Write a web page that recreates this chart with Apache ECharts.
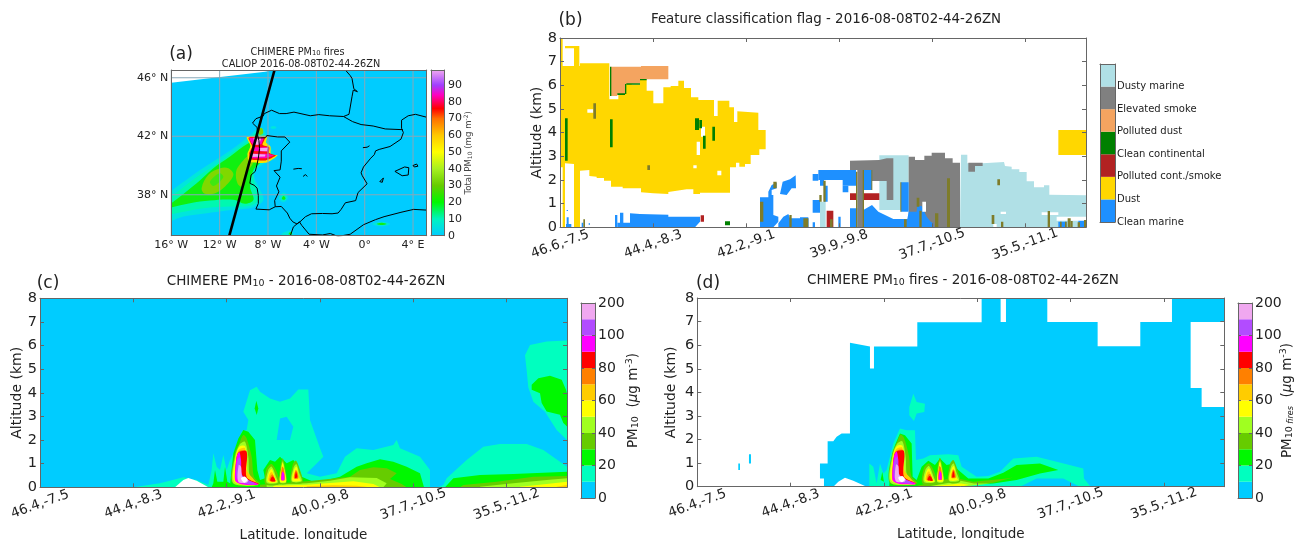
<!DOCTYPE html>
<html><head><meta charset="utf-8">
<style>html,body{margin:0;padding:0;background:#fff}#chart{width:1295px;height:539px}</style>
<script src="https://cdn.jsdelivr.net/npm/echarts@6/dist/echarts.min.js"></script>
</head><body><div id="chart"></div>
<script>
/* ---------- shared labels ---------- */
const FONT = 'DejaVu Sans';
const altitudeTicks = [0,1,2,3,4,5,6,7,8];
const bTrackLabels = ['46.6,-7.5','44.4,-8.3','42.2,-9.1','39.9,-9.8','37.7,-10.5','35.5,-11.1'];
const cTrackLabels = ['46.4,-7.5','44.4,-8.3','42.2,-9.1','40.0,-9.8','37.7,-10.5','35.5,-11.2'];
const pmBandLabels = ['0','20','40','60','80','100','200'];
const pmBandColors = ['#00CCFF','#00FFBF','#00F800','#66CC00','#A0FF20','#FFFF00','#FFCC00','#FF8000','#FF0000','#FF00FF','#B24CFF','#F0A8F0'];
const aerosolTypes = ['Clean marine','Dust','Polluted cont./smoke','Clean continental','Polluted dust','Elevated smoke','Dusty marine'];
const aerosolColors = ['#1E90FF','#FFD700','#B22222','#008000','#F4A460','#808080','#B0E0E6'];
const lonTicks = [-16,-12,-8,-4,0,4];
const latTicks = [38,42,46];
const aScaleStops = [[0,'#00CCFF'],[10,'#00F4C0'],[20,'#00F800'],[30,'#66CC00'],[40,'#A8F020'],[50,'#FFFF00'],[60,'#FFC800'],[70,'#FF7000'],[76,'#FF0000'],[84,'#FF00C0'],[90,'#A040FF'],[99,'#F0A8F0']];

/* ---------- panel (a): map lines, lon/lat ---------- */
const coastFranceSpainPortugal = [[-1.6,46.53],[-1.2,46.15],[-1.05,45.95],[-0.9,45.25],[-0.6,45.05],[-0.95,45.15],[-1.05,44.7],[-1.3,43.5],[-1.75,43.35],[-2.9,43.4],[-3.8,43.48],[-4.5,43.4],[-5.85,43.65],[-6.5,43.55],[-7.05,43.55],[-7.7,43.78],[-8.3,43.55],[-8.4,43.38],[-9.0,43.2],[-9.28,42.9],[-8.9,42.6],[-8.87,42.1],[-8.75,41.7],[-8.7,41.15],[-8.8,40.5],[-8.9,40.1],[-9.05,39.6],[-9.4,39.35],[-9.5,38.78],[-9.15,38.65],[-8.9,38.45],[-8.8,37.95],[-8.8,37.4],[-9.0,37.02],[-7.9,36.97],[-7.4,37.18],[-6.9,37.2],[-6.4,36.75],[-6.2,36.4],[-5.95,36.15],[-5.6,36.0],[-5.35,36.15],[-4.9,36.5],[-4.4,36.7],[-3.5,36.72],[-2.7,36.7],[-2.2,36.75],[-1.95,37.0],[-1.6,37.45],[-0.75,37.6],[-0.55,38.15],[0.2,38.75],[-0.2,39.3],[-0.3,39.5],[-0.1,39.9],[0.5,40.5],[0.8,40.75],[0.9,41.0],[1.2,41.1],[2.1,41.3],[3.0,41.8],[3.2,42.25],[3.05,42.55],[3.05,43.1],[3.6,43.4],[4.2,43.5],[5.13,43.3]];
const borderSpainFrance = [[-1.75,43.35],[-1.0,43.0],[-0.3,42.8],[0.7,42.7],[1.7,42.5],[3.15,42.45]];
const borderSpainPortugal = [[-8.87,41.87],[-8.2,41.9],[-8.1,42.05],[-7.2,41.95],[-6.6,41.95],[-6.2,41.6],[-6.9,41.0],[-6.9,40.3],[-7.0,39.7],[-7.5,39.65],[-7.0,39.2],[-7.3,38.6],[-7.1,38.2],[-7.45,37.6],[-7.4,37.18]];
const coastAfrica = [[-6.15,35.2],[-5.9,35.8],[-5.4,36.15],[-5.2,35.9],[-4.6,35.3],[-3.5,35.25],[-2.85,35.35],[-2.2,35.15],[-1.2,35.3],[-0.1,35.95],[0.9,36.3],[1.6,36.5],[3.0,36.8],[4.05,37.0],[5.13,36.95]];
const islandMallorca = [[2.5,39.6],[3.3,39.9],[3.65,39.85],[3.6,39.35],[3.1,39.3],[2.5,39.6]];
const islandMenorca = [[4.0,40.0],[4.3,40.1],[4.4,39.95],[4.1,39.9],[4.0,40.0]];
const islandIbiza = [[1.25,38.9],[1.55,39.15],[1.7,39.05],[1.45,38.85],[1.25,38.9]];
const reservoirs = [[[-5.9,39.75],[-5.5,39.8],[-5.2,39.78]],[[-5.1,39.25],[-4.9,39.38],[-4.75,39.25]],[[-0.15,41.22],[0.2,41.25],[0.4,41.35]]];
const caliopTrack = [[-7.46,46.53],[-11.2,35.2]];
/* plume bands: lon,lat outlines */
const aWhiteWedge = [[[-16,45.66],[-8.24,46.41],[-7.5,46.53],[-16,46.53]]];
const aBand5 = [[[-17,37.4],[-14.18,39.36],[-12.52,40.27],[-10.86,41.18],[-9.62,41.97],[-8.65,42.61],[-8.24,42.31],[-8.1,41.75],[-7.41,40.72],[-7.33,40.49],[-8.51,40.04],[-9.15,39.36],[-8.79,38.56],[-8.38,37.65],[-9.2,37.15],[-10.86,36.97],[-13.07,36.74],[-15,36.51],[-17,36]],
  [[-7.1,37.75],[-6.7,38.15],[-6.35,37.8],[-6.7,37.5]],[[0.6,36],[1.4,36.15],[2.1,36],[1.4,35.85]],[[-6.9,35.3],[-6.15,35.55],[-5.9,35.3],[-6.3,35.2]],[[-7.8,42.6],[-7.55,42.7],[-7.3,42.6],[-7.55,42.5]]];
const aBand10 = [[[-17,37.1],[-14.04,39.13],[-12.38,40.04],[-10.86,40.95],[-9.62,41.75],[-8.65,42.43],[-8.38,42.09],[-8.24,40.72],[-8.65,40.15],[-9.2,39.47],[-8.98,38.33],[-8.79,37.65],[-9.48,37.24],[-11.14,37.19],[-13.35,37.08],[-17,36.6]],[[-6.9,37.78],[-6.7,38],[-6.5,37.8],[-6.7,37.62]]];
const aBand20 = [[[-17,36.8],[-13.9,38.79],[-12.52,39.81],[-11.14,40.61],[-9.62,41.52],[-8.65,41.75],[-8.51,40.38],[-9.2,39.7],[-9.48,38.56],[-9.2,37.65],[-9.9,37.38],[-10.86,37.65],[-12.8,37.6],[-14.45,37.42],[-17,36.9]],
  [[-6.85,37.75],[-6.7,37.92],[-6.55,37.75],[-6.7,37.65]],[[1,36],[1.4,36.08],[1.8,36],[1.4,35.93]],[[-6.3,35.3],[-6.15,35.45],[-6,35.3]]];
const aBand28 = [[[-13.49,38.45],[-12.93,39.36],[-11.97,39.81],[-11.28,39.81],[-10.86,39.36],[-11.55,38.56],[-12.38,38.1],[-13.21,38.06]],[[-10.64,39.58],[-10.25,40.15],[-9.48,40.72],[-9.2,40.27],[-9.76,39.47],[-10.17,38.56],[-10.53,38.79]],[[-8.8,42.5],[-8.5,42.55],[-8.4,42.2],[-8.7,42.1]]];
const aBand22Core = [[[-12.8,38.9],[-12,39.47],[-11.7,39.2],[-12.5,38.6]]];
const aBand50 = [[[-9.75,41.95],[-8.1,42.0],[-8.15,41.55],[-7.8,41.3],[-7.75,40.75],[-7.2,40.7],[-8.1,40.2],[-9.55,40.25],[-9.7,40.8],[-9.45,41.35]]];
const aBand76 = [[[-9.6,41.9],[-8.25,41.92],[-8.45,41.42],[-7.9,41.25],[-7.9,40.85],[-7.35,40.68],[-8.2,40.35],[-9.45,40.42],[-9.55,40.85],[-9.3,41.3]]];
const aBand84 = [[[-9.55,41.88],[-8.35,41.9],[-8.55,41.45],[-9.2,41.4],[-9.4,41.55]],[[-9.28,41.25],[-8,41.25],[-8,40.95],[-9.28,41]],[[-9.45,40.8],[-8,40.8],[-7.5,40.68],[-8.2,40.5],[-9.45,40.5]]];
const aBand99 = [[[-9.2,41.9],[-8.55,41.9],[-8.75,41.42],[-9.1,41.42]],[[-8.65,41.2],[-8,41.22],[-8.1,40.98],[-8.65,41]],[[-9.3,40.8],[-8.2,40.76],[-8.25,40.62],[-9.3,40.58]]];

/* ---------- panel (b): classified features, [profile, altitude bin] ---------- */
const bDustOutline = [[0,180,0,484,60,484,60,492,148,492,148,384,175,384,175,400,195,400,195,430,215,430,215,428,240,428,240,444,260,444,260,410,280,410,280,372,310,372,310,420,332,420,332,424,355,424,355,440,372,440,372,418,393,418,393,390,415,390,415,382,462,382,462,334,473,334,473,380,508,380,508,360,522,360,522,316,532,316,532,348,595,344,595,292,617,292,617,234,598,234,598,217,572,217,572,190,555,190,555,182,538,182,538,194,528,194,528,180,510,180,510,104,420,104,420,100,400,100,400,114,380,114,350,110,325,106,325,100,280,102,243,105,243,117,188,117,188,122,153,122,153,140,132,140,132,148,110,148,110,152,88,154,88,172,60,170,60,0,42,0,42,190,15,192,15,0,8,0,8,180]];
const bDustBoxes = [[0,8,484,568],[15,42,537,544],[42,58,484,544],[1495,1578,217,292]];
const bClearGaps = [[82,100,344,354],[423,435,272,302],[410,420,217,257],[400,410,177,186],[472,484,156,170]];
const bPollutedDustOutline = [[152,482,243,482,243,484,325,484,325,444,240,444,240,432,195,430,195,400,172,400,172,394,152,394]];
const bCleanContBoxes = [[15,23,200,327],[150,158,240,324],[405,417,292,327],[418,426,297,322],[429,437,236,275],[457,465,260,302],[150,154,394,482],[172,195,397,402],[195,199,400,430],[199,240,428,432],[240,260,441,445],[495,510,6,18]];
const bMarineOutlines = [[210,0,210,42,240,40,325,38,325,32,420,32,420,17,405,0],[600,0,600,90,625,90,625,107,635,127,650,134,650,117,635,112,635,97,640,97,640,37,655,32,655,17,640,0],[655,12,670,32,685,40,690,27,745,27,745,0,655,0],[660,100,668,137,690,144,707,156,708,117,695,117,680,97],[910,52,936,67,955,47,1000,25,1025,25,1046,25,1046,0,910,0]];
const bMarineBoxes = [[165,172,0,37],[180,190,0,44],[172,210,0,14],[20,26,0,30],[18,34,0,10],[65,70,0,14],[20,24,49,52],[86,90,8,12],[758,765,0,15],[775,888,142,172],[758,775,140,160],[848,888,125,142],[848,865,105,125],[780,792,125,142],[792,803,77,125],[758,780,44,82],[835,842,0,32],[720,745,0,30],[870,892,0,57],[910,936,112,172],[1023,1046,47,135],[1495,1520,0,17],[1555,1575,0,22]];
const bMarineLowOutline = [[1042,0,1042,25,1046,47,1070,47,1072,64,1085,64,1100,32,1112,17,1120,12,1120,0]];
const bPollutedContBoxes = [[422,432,17,36],[800,820,0,50],[870,888,82,102],[910,958,82,102]];
const bSmokeOutlines = [[870,172,870,200,958,202,980,207,1000,207,1000,82,980,82,980,139,936,139,936,172,910,172,910,0,892,0,892,172],[1046,212,1065,212,1065,202,1093,202,1093,215,1115,215,1115,224,1155,224,1155,207,1178,207,1178,194,1200,194,1200,0,1046,0]];
const bSmokeBoxes = [[1225,1268,184,194],[1225,1245,167,184]];
const bDustyMarineBoxes = [[780,797,0,77],[958,1046,52,216]];
const bDustyMarineOutline = [[1200,0,1203,218,1222,218,1222,192,1268,192,1332,196,1335,184,1355,182,1355,174,1378,174,1378,166,1400,166,1400,138,1422,138,1422,120,1452,120,1452,126,1468,126,1468,98,1578,96,1578,0]];
const bLateClearGaps = [[1087,1098,47,77],[1322,1338,40,47],[1445,1495,37,45],[1490,1578,20,32],[1300,1310,0,10]];
const bMixedBars = [[100,108,326,372],[262,270,172,186],[70,75,0,24],[600,610,17,77],[640,650,117,137],[688,695,0,37],[730,745,0,27],[778,785,77,97],[790,797,77,140],[810,818,0,24],[888,892,0,167],[908,912,0,172],[934,937,112,172],[1021,1024,47,135],[1032,1040,0,24],[1070,1078,62,89],[1078,1085,0,50],[1125,1135,0,42],[1161,1170,0,147],[1312,1320,126,144],[1295,1303,10,37],[1323,1330,0,17],[1463,1470,0,49],[1500,1505,0,17],[1515,1520,0,17],[1523,1532,0,27],[1532,1538,0,19],[1553,1560,0,15],[1572,1578,0,22]];

/* ---------- panels (c), (d): fire core shared by both, [profile, altitude bin] ---------- */
const coreLevel3 = [[578,12,585,102,600,137,610,157,620,147,635,92,642,32,660,10],[676,10,680,57,695,70,712,42,717,10],[718,12,722,67,728,87,734,67,740,12],[753,14,758,67,768,80,780,52,788,14]];
const coreLevel4 = [[580,12,585,92,600,130,615,137,625,92,630,32,655,10],[680,14,684,50,695,62,709,30,713,14],[720,15,724,60,728,78,733,60,738,15],[755,18,761,60,769,70,778,42,785,18]];
const coreLevel5 = [[583,17,587,92,598,122,615,124,620,92,625,32,655,7],[683,17,687,45,695,55,706,28,711,15],[720,17,724,57,728,74,733,52,738,17],[757,20,763,55,770,62,777,30,782,20]];
const coreLevel6 = [[585,22,590,97,598,114,615,117,620,52,648,12,600,12],[686,20,690,42,696,46,704,24,708,18]];
const coreLevel7 = [[586,25,592,100,600,110,618,109,618,32,650,10,600,12],[689,20,693,36,699,38,706,18],[723,22,726,62,731,57,734,22],[762,27,767,52,772,47,775,27]];
const coreLevel8 = [[588,22,588,72,595,104,620,107,620,30,656,10,600,12],[691,20,696,32,701,30,706,18],[765,28,768,47,772,30]];
const coreLevel9 = [[585,22,590,92,598,106,603,82,608,32,655,9,620,7,595,12],[724,22,727,47,732,42,733,22]];
const coreLevel10 = [[590,27,592,82,600,90,606,37,645,10,605,14]];
const coreLevel11 = [[595,17,596,67,603,62,607,32,625,22,620,14]];
const coreAbove200 = [[603,27,615,32,623,22,612,14]];

/* panel (c) */
const cLevel1 = [[280,0,360,12,430,30,470,22,505,7,515,52,520,102,530,62,540,52,550,97,560,52,570,82,585,112,605,167,620,172,625,202,610,227,630,292,650,302,660,287,690,267,720,257,750,267,775,294,805,294,810,202,840,117,850,92,820,62,800,42,840,32,890,42,915,92,950,117,1000,112,1060,127,1070,142,1080,117,1140,92,1170,52,1170,0],[1195,0,1210,7,1220,27,1280,82,1330,122,1380,130,1460,130,1510,112,1581,62,1581,0],[1455,397,1470,428,1520,438,1581,441,1581,142,1550,172,1515,227,1480,257,1465,300,1460,352]];
const cCyanHole = [[710,142,720,207,740,212,760,182,750,142]];
const cTerrain = [[405,0,430,22,445,28,470,20,505,0]];
const cLevel2 = [[570,0,570,7,580,102,595,147,610,172,625,167,645,142,652,52,660,22,675,27,670,52,690,82,705,77,720,92,740,72,760,82,775,62,785,32,820,17,860,22,900,32,950,62,980,72,1020,84,1060,77,1100,62,1140,42,1152,0],[520,12,525,52,532,17,550,17,555,62,562,17,570,12,570,0,515,0],[644,237,649,260,655,237,650,217],[1215,0,1240,27,1320,37,1420,40,1581,47,1581,0],[1475,293,1475,308,1495,328,1530,335,1565,323,1578,293,1581,280,1581,183,1570,193,1560,218,1520,228,1505,253,1500,283]];
const cLevel3 = [[660,0,660,8,800,18,860,24,930,32,960,52,1000,60,1040,57,1070,42,1050,25,1085,10,1100,0],[1260,0,1270,7,1370,17,1480,32,1581,34,1581,0]];
const cLevel4 = [[680,0,680,7,800,12,870,20,930,30,1010,28,1040,12,1030,0],[1320,0,1320,2,1420,12,1520,22,1581,27,1581,0]];
const cLevel5 = [[700,0,700,5,800,8,880,14,940,18,1000,10,1020,0],[1440,0,1440,2,1520,10,1581,17,1581,0]];
const cLevel6 = [[800,0,800,3,880,6,950,5,990,0],[1550,0,1550,2,1581,7,1581,0]];

/* panel (d) */
const dLevel0Outline = [[368,70,391,70,391,137,408,137,418,150,433,160,458,160,458,433,518,422,518,356,530,356,530,422,660,422,660,495,853,495,853,566,910,566,910,496,926,496,926,566,1050,566,1050,496,1201,496,1201,423,1329,423,1329,496,1424,496,1424,566,1581,566,1581,496,1480,496,1480,297,1513,297,1513,240,1581,240,1581,0,508,0,468,18,443,27,423,15,408,0,380,0,380,25,368,25],[123,50,128,50,128,70,123,70],[155,70,161,70,161,98,155,98]];
const dLevel1 = [[516,0,516,70,528,60,538,10,548,70,558,40,568,50,578,90,588,130,608,175,628,170,653,170,656,80,678,85,698,95,753,98,783,95,793,60,838,30,873,32,908,45,948,85,1018,90,1078,75,1158,55,1160,25,1180,0],[636,240,648,280,658,255,683,250,681,225,658,220,650,198,636,215]];
const dCyanUnder = [[968,0,1018,25,1098,25,1148,0]];
const dLevel2 = [[576,0,576,5,581,80,593,125,608,160,623,155,643,130,646,30,658,20,673,60,693,78,713,65,728,85,748,65,768,70,783,50,813,25,873,25,918,42,958,65,1028,70,1083,50,1028,40,958,20,888,10,798,5,680,0],[550,20,555,45,560,15]];
const dLevel3 = [[660,0,660,3,768,28,828,15,928,25,948,28,888,12,808,4,760,0]];
const dLevel4 = [[700,0,700,2,790,18,830,10,880,10,820,3,780,0]];
const dLevel5 = [[710,0,710,2,790,10,815,6,790,0]];

/* ---------- builders ---------- */
const BINS_PER_KM = 71;
const flatToPairs = f => { const o=[]; for(let i=0;i<f.length;i+=2) o.push([f[i],f[i+1]/BINS_PER_KM]); return o; };
const boxToPairs = b => [[b[0],b[2]/BINS_PER_KM],[b[1],b[2]/BINS_PER_KM],[b[1],b[3]/BINS_PER_KM],[b[0],b[3]/BINS_PER_KM]];
const paintFlat = (color, list, smooth) => list.map(f => ({c:color, p:flatToPairs(f), s:smooth||0}));
const paintBox = (color, list) => list.map(b => ({c:color, p:boxToPairs(b), s:0}));
const paintGeo = (color, list, smooth) => list.map(p => ({c:color, p, s:smooth||0}));

const grids=[], xAxes=[], yAxes=[], series=[];
const AXIS_COLOR='#666', TEXT='#222';
function panel(box, x, y, opt){
  opt = opt || {};
  const gi = grids.length, xi = xAxes.length, yi = yAxes.length;
  grids.push({left:box[0],top:box[1],width:box[2]-box[0],height:box[3]-box[1],containLabel:false,outerBoundsMode:'none',show:!!opt.bg,backgroundColor:opt.bg||'transparent',borderWidth:0});
  const line={show:true,onZero:false,lineStyle:{color:AXIS_COLOR,width:1}};
  const base={gridIndex:gi,type:'value',z:10,splitLine:{show:false},axisLine:line};
  xAxes.push(Object.assign({},base,x,{position:'bottom'}));
  xAxes.push(Object.assign({},base,{min:x.min,max:x.max,interval:x.interval,position:'top',axisLabel:{show:false},axisTick:x.axisTick||{show:false}}));
  yAxes.push(Object.assign({},base,y,{position:y.position||'left'}));
  yAxes.push(Object.assign({},base,{min:y.min,max:y.max,interval:y.interval,position:y.position==='right'?'left':'right',axisLabel:{show:false},axisTick:y.axisTick||{show:false}}));
  return {xi,yi};
}
function polygons(ax, list, z){
  series.push({type:'custom',xAxisIndex:ax.xi,yAxisIndex:ax.yi,z:z||2,clip:true,silent:true,coordinateSystem:'cartesian2d',
    data:list.map((d,i)=>[i]),
    renderItem:(params,api)=>{const d=list[params.dataIndex];
      return {type:'polygon',shape:{points:d.p.map(q=>api.coord(q)),smooth:d.s||0},style:{fill:d.c,stroke:null}};}});
}
function polyline(ax, pts, color, width, z){
  series.push({type:'line',xAxisIndex:ax.xi,yAxisIndex:ax.yi,data:pts,showSymbol:false,symbol:'none',silent:true,z:z||4,clip:true,animation:false,
    lineStyle:{color,width}});
}
const insideTick={show:true,inside:true,length:4,lineStyle:{color:AXIS_COLOR}};
const altY = gap => ({min:0,max:8,interval:1,axisTick:insideTick,
  axisLabel:{fontFamily:FONT,fontSize:14.5,color:TEXT,margin:3,formatter:v=>altitudeTicks.includes(v)?String(v):''},
  name:'Altitude (km)',nameLocation:'middle',nameRotate:90,nameGap:gap,nameTextStyle:{fontFamily:FONT,fontSize:14,color:TEXT}});
const trackX = (labels, interval, max, extra) => Object.assign({min:0,max,interval,axisTick:insideTick,
  axisLabel:{fontFamily:FONT,fontSize:13.5,color:TEXT,rotate:20,margin:17,align:'center',verticalAlign:'middle',showMaxLabel:false,hideOverlap:false,
    formatter:v=>{const s=labels[Math.round(v/interval)];return (v%interval===0&&s)?s:'';}}},extra||{});
const pmRich={a:{fontFamily:FONT,fontSize:13.5,color:TEXT},s:{fontFamily:FONT,fontSize:9.5,color:TEXT,verticalAlign:'bottom',padding:[6,0,0,0]},f:{fontFamily:FONT,fontSize:8,fontStyle:'italic',color:TEXT,verticalAlign:'bottom',padding:[6,0,0,0]},u:{fontFamily:FONT,fontSize:9.5,color:TEXT,verticalAlign:'top',padding:[0,0,6,0]},i:{fontFamily:FONT,fontSize:13.5,fontStyle:'italic',color:TEXT}};
function pmColorbar(box, name, gap){
  const ax=panel(box,{min:0,max:1,axisLabel:{show:false},axisTick:{show:false}},
    {min:0,max:12,interval:2,position:'right',axisTick:{show:true,inside:true,length:3,lineStyle:{color:AXIS_COLOR}},
     axisLabel:{fontFamily:FONT,fontSize:14,color:TEXT,margin:3,formatter:v=>pmBandLabels[v/2]},
     name,nameLocation:'middle',nameRotate:90,nameGap:gap,nameMoveOverlap:false,nameTextStyle:{rich:pmRich,fontFamily:FONT,fontSize:13.5,color:TEXT}});
  polygons(ax,pmBandColors.map((c,i)=>({c,p:[[0,i],[1,i],[1,i+1],[0,i+1]]})));
}

/* ---------- panel (a) ---------- */
{
  const ax=panel([171.3,70,426.7,235.7],
    {min:-16,max:5.13,axisTick:{show:false},axisLabel:{customValues:lonTicks,fontFamily:FONT,fontSize:11,color:TEXT,margin:4,showMinLabel:true,showMaxLabel:true,
      formatter:v=>v===0?'0°':(Math.abs(v)+'° '+(v<0?'W':'E'))}},
    {min:35.2,max:46.53,axisTick:{show:false},axisLabel:{customValues:latTicks,fontFamily:FONT,fontSize:11,color:TEXT,margin:3,formatter:v=>v+'° N'}},
    {bg:'#00CCFF'});
  const sm=0.35;
  polygons(ax,[].concat(
    paintGeo('#FFFFFF',aWhiteWedge),paintGeo('#00E6DC',aBand5,sm),paintGeo('#00F8B0',aBand10,sm),
    paintGeo('#10F010',aBand20,sm),paintGeo('#80D800',aBand28,sm),paintGeo('#40E810',aBand22Core,sm),
    paintGeo('#FFE000',aBand50,0.2),paintGeo('#FF1010',aBand76,0.2),paintGeo('#FF00C0',aBand84),paintGeo('#F0A8F0',aBand99)));
  latTicks.forEach(l=>polyline(ax,[[-16,l],[5.13,l]],'#88A8B8',1,3));
  lonTicks.forEach(l=>polyline(ax,[[l,35.2],[l,46.53]],'#88A8B8',1,3));
  [coastFranceSpainPortugal,borderSpainFrance,borderSpainPortugal,coastAfrica,islandMallorca,islandMenorca,islandIbiza].concat(reservoirs)
    .forEach(l=>polyline(ax,l,'#000',1,4));
  polyline(ax,caliopTrack,'#000',2.6,5);
  const bar=panel([431,70,444,235.7],{min:0,max:1,axisLabel:{show:false},axisTick:{show:false}},
    {min:0,max:99,interval:10,position:'right',axisTick:{show:false},
     axisLabel:{fontFamily:FONT,fontSize:11,color:TEXT,margin:4,showMaxLabel:false,formatter:v=>v%10===0?String(v):''},
     name:'{a|Total PM}{s|10}{a| (mg m}{u|-2}{a|)}',nameLocation:'middle',nameRotate:90,nameGap:19.5,nameMoveOverlap:false,
     nameTextStyle:{rich:{a:{fontFamily:FONT,fontSize:8.6,color:'#444'},s:{fontFamily:FONT,fontSize:6,color:'#444',verticalAlign:'bottom',padding:[4,0,0,0]},u:{fontFamily:FONT,fontSize:6,color:'#444',verticalAlign:'top',padding:[0,0,4,0]}}}});
  const gradient=new echarts.graphic.LinearGradient(0,1,0,0,aScaleStops.map(s=>({offset:s[0]/99,color:s[1]})));
  polygons(bar,[{c:gradient,p:[[0,0],[1,0],[1,99],[0,99]]}]);
}

/* ---------- panel (b) ---------- */
{
  const ax=panel([560,38,1086,227.3],trackX(bTrackLabels,279,1578),altY(11));
  const [marine,dust,pollCont,cleanCont,pollDust,smoke,dustyMarine]=aerosolColors;
  const mixed='#7E7C2A';
  polygons(ax,[].concat(
    paintFlat(dust,bDustOutline),paintBox(dust,bDustBoxes),paintBox('#FFFFFF',bClearGaps),
    paintFlat(pollDust,bPollutedDustOutline),
    paintBox(dustyMarine,bDustyMarineBoxes),paintFlat(dustyMarine,bDustyMarineOutline),
    paintFlat(smoke,bSmokeOutlines),paintBox(smoke,bSmokeBoxes),
    paintFlat(marine,bMarineOutlines),paintFlat(marine,bMarineLowOutline),paintBox(marine,bMarineBoxes),
    paintBox(pollCont,bPollutedContBoxes),paintBox(cleanCont,bCleanContBoxes),
    paintBox('#FFFFFF',bLateClearGaps),paintBox(mixed,bMixedBars)));
  const bar=panel([1100,64,1115,222],{min:0,max:1,axisLabel:{show:false},axisTick:{show:false}},
    {min:0,max:7,interval:1,position:'right',axisTick:{show:false},
     axisLabel:{fontFamily:FONT,fontSize:10,color:TEXT,margin:2,formatter:v=>aerosolTypes[v]||''}});
  polygons(bar,aerosolColors.map((c,i)=>({c,p:[[0,i],[1,i],[1,i+1],[0,i+1]]})));
}

/* ---------- panels (c), (d) ---------- */
const core=[coreLevel3,coreLevel4,coreLevel5,coreLevel6,coreLevel7,coreLevel8,coreLevel9,coreLevel10,coreLevel11];
const xName={name:'Latitude, longitude',nameLocation:'middle',nameGap:41,nameTextStyle:{fontFamily:FONT,fontSize:13.5,color:TEXT}};
const coreSmooth=0.3;
{
  const ax=panel([40,298.3,567,487.3],trackX(cTrackLabels,280,1581,xName),altY(11),{bg:'#00CCFF'});
  const strips=[cLevel3,cLevel4,cLevel5,cLevel6];
  polygons(ax,[].concat(
    paintFlat(pmBandColors[1],cLevel1),paintFlat(pmBandColors[0],cCyanHole),paintFlat('#FFFFFF',cTerrain),paintFlat(pmBandColors[2],cLevel2),
    ...strips.map((s,i)=>paintFlat(pmBandColors[3+i],s)),
    ...core.map((s,i)=>paintFlat(pmBandColors[3+i],s,coreSmooth)),paintFlat('#FFFFFF',coreAbove200,coreSmooth)));
  pmColorbar([581,303,595,498],'{a|PM}{s|10}{a|  (}{i|μ}{a|g m}{u|-3}{a|)}',30);
}
{
  const ax=panel([697.3,298,1224.3,486.7],trackX(cTrackLabels,280,1581,xName),altY(19));
  const strips=[dLevel3,dLevel4,dLevel5];
  polygons(ax,[].concat(
    paintFlat(pmBandColors[0],dLevel0Outline),paintFlat(pmBandColors[1],dLevel1),paintFlat(pmBandColors[0],dCyanUnder),paintFlat(pmBandColors[2],dLevel2),
    ...strips.map((s,i)=>paintFlat(pmBandColors[3+i],s)),
    ...core.map((s,i)=>paintFlat(pmBandColors[3+i],s,coreSmooth)),paintFlat('#FFFFFF',coreAbove200,coreSmooth)));
  pmColorbar([1238,303,1252,498],'{a|PM}{s|10}{f| fires}{a|  (}{i|μ}{a|g m}{u|-3}{a|)}',27);
}

/* ---------- titles ---------- */
const tRich=(size)=>({a:{fontFamily:FONT,fontSize:size,color:TEXT},s:{fontFamily:FONT,fontSize:size*0.7,color:TEXT,verticalAlign:'bottom',padding:[size*0.35,0,0,0]}});
const title=(text,cx,cy,size)=>({text,left:cx,top:cy,textAlign:'center',textVerticalAlign:'middle',padding:0,textStyle:{fontFamily:FONT,fontSize:size,color:TEXT,fontWeight:'normal',rich:tRich(size)}});
const titles=[
  title('{a|CHIMERE PM}{s|10}{a| fires}',297.5,52,9.7),
  title('{a|CALIOP 2016-08-08T02-44-26ZN}',301,64,9.7),
  title('{a|Feature classification flag - 2016-08-08T02-44-26ZN}',826,20,13.4),
  title('{a|CHIMERE PM}{s|10}{a| - 2016-08-08T02-44-26ZN}',306,281,13.5),
  title('{a|CHIMERE PM}{s|10}{a| fires - 2016-08-08T02-44-26ZN}',963,280,13.5),
  title('{a|(a)}',181,55,17),title('{a|(b)}',570.5,21,17),title('{a|(c)}',48,284,17),title('{a|(d)}',708,284,17)
];

const chart=echarts.init(document.getElementById('chart'),null,{renderer:'canvas'});
chart.setOption({animation:false,backgroundColor:'#fff',title:titles,grid:grids,xAxis:xAxes,yAxis:yAxes,series});
</script></body></html>
